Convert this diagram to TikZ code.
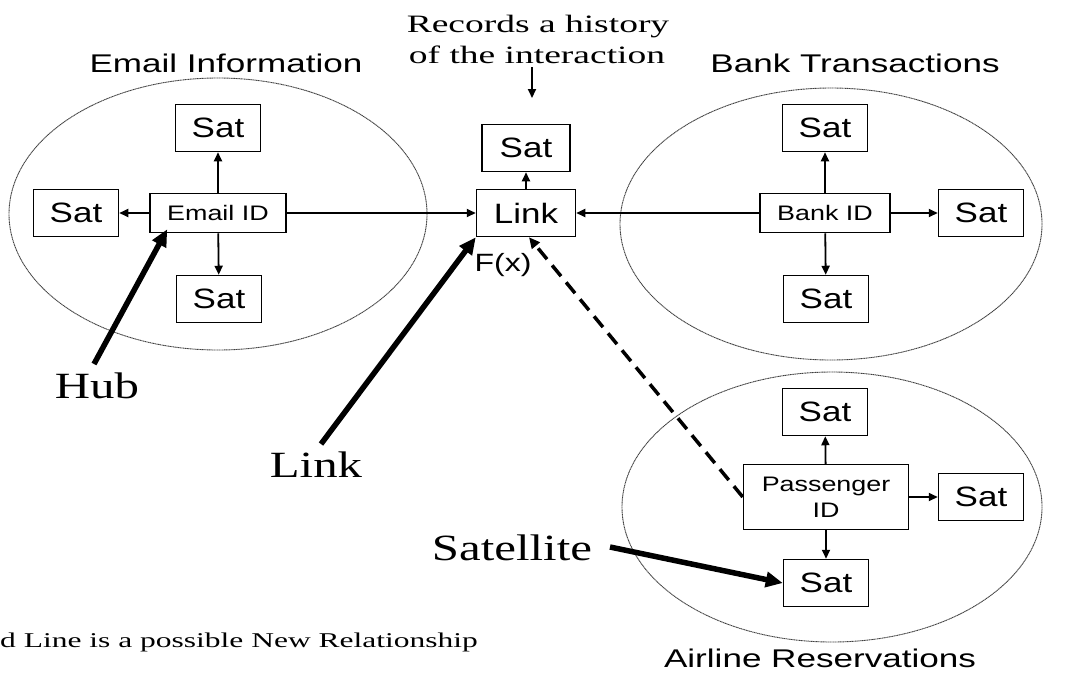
\documentclass[tikz,border=0pt]{standalone}
\usepackage{fontspec}
\usetikzlibrary{arrows.meta}
\newfontfamily\boxfont[FakeStretch=1.25]{Liberation Sans}
\newfontfamily\idfont[FakeStretch=1.28]{Liberation Sans}
\newfontfamily\titlefont[FakeStretch=1.37]{Liberation Sans}
\newfontfamily\notefont[FakeStretch=1.5]{Liberation Serif}
\newfontfamily\callfont[FakeStretch=1.32]{Liberation Serif}
\tikzset{
  group/.style={draw=black!75, line width=0.9pt, dash pattern=on 1.2pt off 0.5pt},
  satbox/.style={draw, line width=1.5pt, minimum width=85pt, minimum height=47pt,
    inner sep=0pt, font=\boxfont\fontsize{28}{30}\selectfont},
  idbox/.style={draw, line width=1.5pt, inner sep=0pt,
    font=\idfont\fontsize{21}{25}\selectfont, align=center},
  title/.style={font=\titlefont\fontsize{25.6}{28}\selectfont, inner sep=0pt, anchor=base},
  callout/.style={font=\callfont\fontsize{37}{40}\selectfont, inner sep=0pt, anchor=base},
  rel/.style={line width=1.8pt, -{Triangle[length=9pt,width=8pt]}},
  pointer/.style={line width=5.5pt, -{Triangle[length=17pt,width=15pt]}},
}
\begin{document}
\begin{tikzpicture}[x=1pt,y=-1pt]
\useasboundingbox (0,0) rectangle (1067,673);

% the three groups
\draw[group] (218,214) ellipse [x radius=209, y radius=136];
\draw[group] (831,224) ellipse [x radius=211, y radius=136];
\draw[group] (832,507) ellipse [x radius=210, y radius=135];

\node[title] (tEmail) at (226,72) {Email Information};
\node[title] (tBank) at (855,72) {Bank Transactions};
\node[title] (tAir) at (820,667) {Airline Reservations};

% email hub and satellites
\node[idbox, minimum width=136pt, minimum height=39pt] (email) at (218,213) {Email ID};
\node[satbox] (eTop) at (218,128) {Sat};
\node[satbox] (eLeft) at (76,213) {Sat};
\node[satbox] (eBot) at (219,299) {Sat};

% link and its satellite
\node[satbox, minimum width=99pt] (link) at (526,213) {Link};
\node[satbox, minimum width=88pt] (lTop) at (526,148) {Sat};
\node[font=\idfont\fontsize{25}{27}\selectfont, inner sep=0pt, anchor=base] (fx) at (503,271) {F(x)};

% bank hub and satellites
\node[idbox, minimum width=130pt, minimum height=39pt] (bank) at (825,213) {Bank ID};
\node[satbox] (bTop) at (825,128) {Sat};
\node[satbox] (bRight) at (981,213) {Sat};
\node[satbox] (bBot) at (826,299) {Sat};

% passenger hub and satellites
\node[idbox, minimum width=165pt, minimum height=65pt, font=\idfont\fontsize{21}{26}\selectfont] (pass) at (826,497) {Passenger\\ID};
\node[satbox] (pTop) at (825,412) {Sat};
\node[satbox] (pRight) at (981,497) {Sat};
\node[satbox] (pBot) at (826,583) {Sat};

% note above the link
\node[font=\notefont\fontsize{25}{31}\selectfont, inner sep=0pt, anchor=base] (note1) at (538,32) {Records a history};
\node[font=\notefont\fontsize{25}{31}\selectfont, inner sep=0pt, anchor=base] (note2) at (537,63) {of the interaction};
\coordinate (noteTail) at (532,67);
\coordinate (noteTip) at (532,98);

% relationships
\draw[rel] (email) -- (eTop);
\draw[rel] (email) -- (eLeft);
\draw[rel] (email) -- (eBot);
\draw[rel] (email) -- (link);
\draw[rel] (link) -- (lTop);
\draw[rel] (bank) -- (link);
\draw[rel] (bank) -- (bTop);
\draw[rel] (bank) -- (bRight);
\draw[rel] (bank) -- (bBot);
\draw[rel] (pass) -- (pTop);
\draw[rel] (pass.east) -- (pRight);
\draw[rel] (pass) -- (pBot);
\draw[rel] (noteTail) -- (noteTip);

% possible new relationship
\draw[line width=3.5pt, dash pattern=on 14pt off 8pt, -{Triangle[length=11pt,width=10pt]}]
  (pass.west) -- ([xshift=3pt]link.south);

% callouts
\node[callout] (hub) at (97,398) {Hub};
\node[callout] (linkLbl) at (316,477) {Link};
\node[callout] (sat) at (512,560) {Satellite};
\coordinate (hubTail) at (94,364);
\coordinate (linkTail) at (321,444);
\coordinate (satTail) at (610,547);
\draw[pointer] (hubTail) -- ([shift={(18,-4)}]email.south west);
\draw[pointer] (linkTail) -- (link.south west);
\draw[pointer] (satTail) -- (pBot.west);

\node[font=\notefont\fontsize{21}{24}\selectfont, anchor=base west, inner sep=0pt] (legend) at (0,647)
  {d Line is a possible New Relationship};
\end{tikzpicture}
\end{document}
